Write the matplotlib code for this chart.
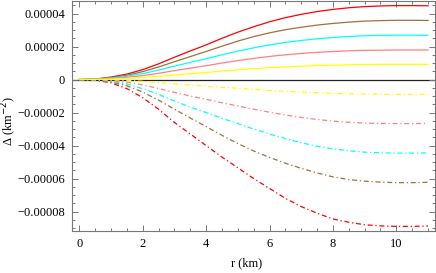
import numpy as np
import matplotlib.pyplot as plt
from matplotlib.ticker import MultipleLocator, FuncFormatter

plt.rcParams['font.family'] = ['Liberation Serif', 'DejaVu Serif']

# radius samples (km)
r = np.arange(0, 11.5, 0.5)

# Delta values, units of 1e-5 km^-2
red_solid = [0, 0.03, 0.15, 0.33, 0.6, 0.95, 1.35, 1.73, 2.1, 2.5, 2.87, 3.2,
             3.5, 3.75, 3.95, 4.12, 4.25, 4.35, 4.42, 4.46, 4.48, 4.48, 4.47]
brown_solid = [0, 0.02, 0.12, 0.26, 0.48, 0.76, 1.08, 1.39, 1.7, 2.02, 2.33, 2.6,
               2.83, 3.02, 3.17, 3.3, 3.4, 3.48, 3.54, 3.57, 3.59, 3.59, 3.58]
cyan_solid = [0, 0.02, 0.09, 0.2, 0.36, 0.57, 0.81, 1.04, 1.26, 1.5, 1.72, 1.92,
              2.1, 2.25, 2.37, 2.47, 2.55, 2.61, 2.65, 2.68, 2.69, 2.69, 2.68]
pink_solid = [0, 0.01, 0.06, 0.13, 0.24, 0.38, 0.54, 0.69, 0.84, 1.0, 1.15, 1.28,
              1.4, 1.5, 1.58, 1.65, 1.7, 1.74, 1.77, 1.78, 1.79, 1.79, 1.79]
yellow_solid = [0, 0.01, 0.03, 0.07, 0.12, 0.19, 0.28, 0.35, 0.43, 0.51, 0.59, 0.66,
                0.72, 0.77, 0.81, 0.85, 0.87, 0.89, 0.91, 0.92, 0.92, 0.92, 0.92]

red_dash = [0, -0.04, -0.2, -0.55, -1.1, -1.8, -2.6, -3.3, -4.0, -4.7, -5.35, -6.0,
            -6.6, -7.2, -7.7, -8.1, -8.45, -8.65, -8.8, -8.87, -8.9, -8.9, -8.88]
brown_dash = [0, -0.03, -0.14, -0.38, -0.76, -1.25, -1.8, -2.33, -2.85, -3.38, -3.88, -4.33,
              -4.72, -5.07, -5.38, -5.66, -5.9, -6.06, -6.16, -6.22, -6.25, -6.25, -6.23]
cyan_dash = [0, -0.02, -0.1, -0.27, -0.55, -0.9, -1.3, -1.67, -2.0, -2.35, -2.67, -3.0,
             -3.3, -3.58, -3.83, -4.04, -4.2, -4.32, -4.4, -4.44, -4.46, -4.46, -4.45]
pink_dash = [0, -0.01, -0.06, -0.16, -0.33, -0.54, -0.78, -1.0, -1.2, -1.41, -1.6, -1.8,
             -1.98, -2.15, -2.3, -2.42, -2.52, -2.59, -2.64, -2.66, -2.67, -2.67, -2.66]
yellow_dash = [0, 0, -0.02, -0.05, -0.11, -0.18, -0.26, -0.33, -0.4, -0.47, -0.53, -0.6,
               -0.66, -0.71, -0.76, -0.8, -0.84, -0.86, -0.88, -0.89, -0.9, -0.9, -0.9]

colors = ['#ff0000', '#a0703c', '#00ffff', '#ff8080', '#ffff00']
solids = [red_solid, brown_solid, cyan_solid, pink_solid, yellow_solid]
dashes = [red_dash, brown_dash, cyan_dash, pink_dash, yellow_dash]

fig = plt.figure(figsize=(4.36, 2.73), dpi=100)
ax = fig.add_axes([72/436, 42/273, 363/436, 230/273])

ax.axhline(0, color='#222222', lw=0.9, zorder=1)
for c, s, d in zip(colors, solids, dashes):
    ax.plot(r, np.array(s) * 1e-5, color=c, lw=0.9, zorder=2)
    ax.plot(r, np.array(d) * 1e-5, color=c, lw=0.9, zorder=2,
            dashes=(4, 2.2, 1, 2.2))

ax.set_xlim(-0.23, 11.22)
ax.set_ylim(-9.18e-5, 4.76e-5)

ax.xaxis.set_major_locator(MultipleLocator(2))
ax.xaxis.set_minor_locator(MultipleLocator(0.5))
ax.yaxis.set_major_locator(MultipleLocator(2e-5))
ax.yaxis.set_minor_locator(MultipleLocator(0.5e-5))


def yfmt(v, pos):
    if abs(v) < 1e-12:
        return '0'
    return f'{v:.5f}'.replace('-', '\u2212')


ax.yaxis.set_major_formatter(FuncFormatter(yfmt))
ax.xaxis.set_major_formatter(FuncFormatter(lambda v, p: f'{v:.0f}'))

for sp in ax.spines.values():
    sp.set_color('#777777')
    sp.set_linewidth(0.8)
ax.tick_params(which='both', direction='in', top=True, right=True,
               color='#777777', labelsize=9, width=0.7)
ax.tick_params(which='major', length=4, pad=5)
ax.tick_params(which='minor', length=2)

ax.set_xlabel('r (km)', fontsize=9)
ax.set_ylabel('\u0394 (km$^{-2}$)', fontsize=9)
ax.xaxis.set_label_coords(0.48, -0.115)
ax.yaxis.set_label_coords(-0.145, 0.48)

fig.savefig('out.png', dpi=100)
